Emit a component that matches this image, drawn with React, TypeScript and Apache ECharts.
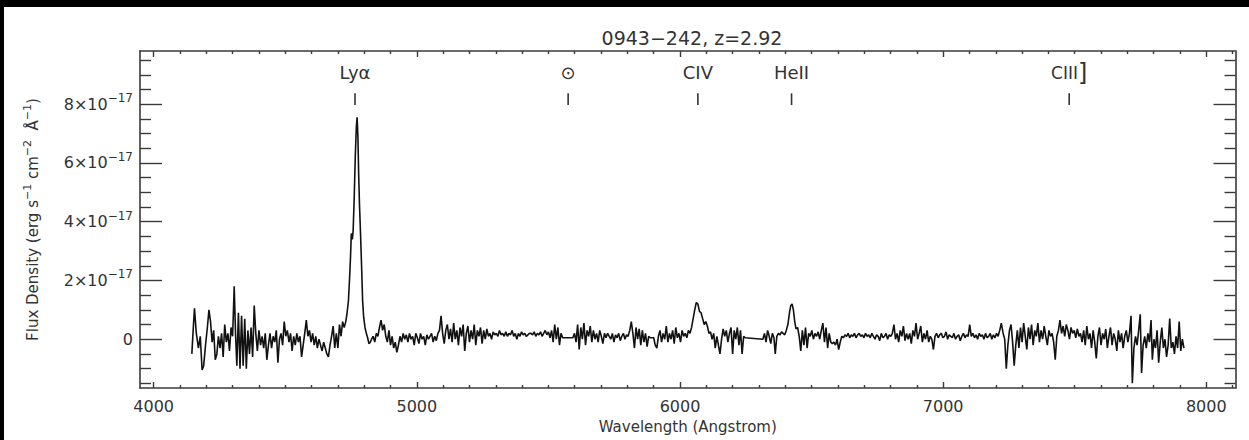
import React, { useEffect, useRef } from 'react';
import * as echarts from 'echarts';

const TITLE = '0943\u2212242, z=2.92';
const X_NAME = 'Wavelength (Angstrom)';
const X_MIN = 3948;
const X_MAX = 8111;
const Y_MIN = -1.66;
const Y_MAX = 9.81;
const Y_EXP = -17;

const X_MAJOR = [4000, 5000, 6000, 7000, 8000];
const X_MINOR = [4100, 4200, 4300, 4400, 4500, 4600, 4700, 4800, 4900,
  5100, 5200, 5300, 5400, 5500, 5600, 5700, 5800, 5900,
  6100, 6200, 6300, 6400, 6500, 6600, 6700, 6800, 6900,
  7100, 7200, 7300, 7400, 7500, 7600, 7700, 7800, 7900, 8100];
const Y_MAJOR = [0, 2, 4, 6, 8];
const Y_MINOR = [-1.5, -1, -0.5, 0.5, 1, 1.5, 2.5, 3, 3.5, 4.5, 5, 5.5, 6.5, 7, 7.5, 8.5, 9, 9.5];

const LINE_LABELS = ['Ly\u03b1', '\u2299', 'CIV', 'HeII', '{c|CIII}{k|]}'];
const LINE_WAVES = [4765, 5575, 6068, 6424, 7479];
const MARK_LABEL_Y = 9.07;
const MARK_TICK_TOP = 8.37;
const MARK_TICK_BOTTOM = 7.97;

// wavelength (Angstrom), flux density (units of 1e-17 erg s^-1 cm^-2 A^-1)
const SPECTRUM: [number, number][] = [
  [4145, -0.5], [4150, 0.3], [4155, 1.05], [4162, 0.2], [4170, -0.3], [4177, 0.1], [4184, -1.05], [4190, -0.9],
  [4197, -0.2], [4204, 0.4], [4210, 1.0], [4216, 0.6], [4222, -0.1], [4228, 0.3], [4234, -0.7], [4240, -0.5],
  [4246, 0.1], [4252, -0.3], [4258, 0.2], [4264, -0.6], [4270, 0.5], [4276, -0.1], [4282, 0.2], [4288, -0.4],
  [4294, 0.4], [4300, 0.1], [4306, 1.8], [4311, 0.2], [4316, -0.9], [4322, 0.9], [4328, -1.0], [4334, 0.8],
  [4340, -0.9], [4346, 0.7], [4352, -1.0], [4358, 0.3], [4364, -0.5], [4370, 0.4], [4376, -0.6], [4382, 1.15],
  [4388, 0.2], [4394, -0.4], [4400, 0.3], [4406, -0.2], [4412, 0.1], [4418, -0.3], [4424, 0.2], [4430, -0.7],
  [4436, -0.2], [4442, 0.2], [4448, -0.3], [4454, 0.1], [4460, -0.1], [4466, 0.3], [4472, -0.8], [4478, 0.0],
  [4484, 0.2], [4490, -0.2], [4496, 0.6], [4502, 0.1], [4508, 0.3], [4514, -0.1], [4520, 0.2], [4526, -0.4],
  [4532, 0.1], [4538, -0.2], [4544, 0.2], [4550, -0.1], [4556, 0.1], [4562, -0.6], [4568, -0.2], [4574, 0.2],
  [4580, 0.65], [4586, 0.1], [4592, 0.3], [4598, -0.1], [4604, 0.2], [4610, -0.2], [4616, 0.1], [4622, -0.3],
  [4628, 0.0], [4634, -0.2], [4640, -0.4], [4646, -0.1], [4652, -0.3], [4658, -0.5], [4664, -0.6], [4670, -0.2],
  [4676, 0.1], [4682, 0.45], [4688, -0.3], [4694, 0.2], [4700, -0.3], [4706, 0.5], [4712, 0.1], [4718, 0.6],
  [4724, 0.4], [4730, 0.6], [4735, 0.9], [4740, 1.3], [4744, 2.0], [4748, 2.8], [4751, 3.6], [4755, 3.4],
  [4758, 3.7], [4762, 4.8], [4766, 6.2], [4770, 7.2], [4773, 7.55], [4776, 6.9], [4779, 5.6], [4782, 4.6],
  [4786, 3.6], [4790, 2.5], [4794, 1.3], [4798, 0.75], [4803, 0.4], [4808, 0.2], [4813, 0.05], [4818, -0.15],
  [4823, -0.1], [4828, 0.0], [4834, 0.1], [4840, -0.1], [4846, 0.2], [4852, 0.1], [4858, 0.4], [4864, 0.65],
  [4870, 0.3], [4876, 0.5], [4882, 0.1], [4888, -0.1], [4894, 0.3], [4900, -0.2], [4906, 0.1], [4912, -0.3],
  [4918, -0.1], [4924, -0.45], [4930, -0.2], [4936, 0.1], [4942, -0.1], [4948, 0.2], [4954, 0.0], [4960, 0.15],
  [4966, -0.1], [4972, 0.2], [4978, 0.0], [4984, 0.1], [4990, -0.2], [4996, 0.2], [5002, 0.05], [5008, -0.15],
  [5014, 0.2], [5020, 0.0], [5026, 0.1], [5032, -0.2], [5038, 0.15], [5044, 0.0], [5050, 0.1], [5056, 0.2],
  [5062, -0.1], [5068, 0.1], [5074, -0.05], [5080, 0.2], [5086, 0.3], [5092, 0.8], [5098, 0.2], [5104, -0.15],
  [5110, 0.3], [5116, 0.5], [5122, 0.0], [5128, 0.35], [5134, -0.1], [5140, 0.55], [5146, 0.0], [5152, 0.3],
  [5158, -0.2], [5164, 0.4], [5170, 0.1], [5176, 0.5], [5182, -0.4], [5188, 0.2], [5194, 0.45], [5200, -0.1],
  [5206, 0.3], [5212, 0.0], [5218, 0.5], [5224, -0.2], [5230, 0.3], [5236, 0.1], [5242, 0.4], [5248, -0.15],
  [5254, 0.3], [5260, 0.0], [5266, 0.35], [5272, 0.1], [5278, 0.2], [5284, 0.0], [5290, 0.25], [5296, 0.15],
  [5302, 0.2], [5308, 0.1], [5314, 0.3], [5320, 0.15], [5326, 0.2], [5332, 0.1], [5338, 0.25], [5344, 0.1],
  [5350, 0.2], [5356, 0.15], [5362, 0.3], [5368, 0.1], [5374, 0.2], [5380, 0.0], [5386, 0.2], [5392, 0.1],
  [5398, 0.25], [5404, 0.15], [5410, 0.2], [5416, 0.1], [5422, 0.15], [5428, 0.2], [5434, 0.2], [5440, 0.15],
  [5446, 0.25], [5452, 0.1], [5458, 0.2], [5464, 0.15], [5470, 0.25], [5476, 0.1], [5482, 0.2], [5488, 0.3],
  [5494, 0.15], [5500, 0.25], [5506, 0.05], [5512, 0.3], [5518, -0.1], [5524, 0.5], [5530, 0.0], [5536, 0.4],
  [5542, -0.2], [5548, 0.2], [5554, 0.05], [5593, 0.05], [5599, 0.2], [5605, -0.1], [5611, 0.5], [5617, -0.35],
  [5623, 0.4], [5629, 0.0], [5635, 0.55], [5641, -0.2], [5647, 0.3], [5653, 0.1], [5659, 0.45], [5665, -0.1],
  [5671, 0.3], [5677, 0.0], [5683, 0.2], [5689, -0.1], [5695, 0.3], [5701, 0.1], [5707, -0.15], [5713, 0.2],
  [5719, 0.05], [5725, 0.2], [5731, 0.1], [5737, 0.0], [5743, 0.2], [5749, -0.1], [5755, 0.15], [5761, 0.05],
  [5767, 0.2], [5773, -0.05], [5779, 0.1], [5785, 0.2], [5791, 0.0], [5797, 0.15], [5803, 0.1], [5809, 0.3],
  [5815, 0.6], [5821, 0.2], [5827, -0.3], [5833, 0.4], [5839, 0.0], [5845, 0.35], [5851, -0.2], [5857, 0.3],
  [5863, -0.1], [5869, 0.2], [5875, -0.25], [5881, 0.1], [5887, 0.05], [5893, 0.05], [5900, 0.05], [5906, -0.2],
  [5912, -0.3], [5918, 0.1], [5924, 0.3], [5930, -0.1], [5936, 0.2], [5942, 0.0], [5948, 0.45], [5954, -0.1],
  [5960, 0.2], [5966, 0.0], [5972, 0.3], [5978, -0.15], [5984, 0.4], [5990, 0.05], [5996, 0.2], [6002, -0.1],
  [6008, 0.3], [6014, 0.1], [6020, 0.2], [6026, 0.05], [6032, 0.3], [6038, 0.2], [6044, 0.4], [6050, 0.7],
  [6056, 1.0], [6062, 1.25], [6068, 1.2], [6074, 0.95], [6080, 0.9], [6086, 0.7], [6092, 0.5], [6098, 0.6],
  [6104, 0.45], [6110, 0.2], [6116, 0.25], [6122, 0.0], [6128, 0.2], [6134, -0.3], [6140, 0.1], [6146, -0.2],
  [6152, -0.5], [6158, 0.0], [6164, 0.35], [6170, 0.1], [6176, 0.3], [6182, -0.1], [6188, 0.2], [6194, 0.4],
  [6200, -0.5], [6206, 0.3], [6212, 0.0], [6218, 0.4], [6224, -0.2], [6230, 0.3], [6236, -0.5], [6242, 0.1],
  [6248, 0.05], [6315, 0.0], [6321, 0.2], [6327, -0.1], [6333, 0.3], [6339, 0.1], [6345, -0.15], [6351, 0.2],
  [6357, 0.05], [6362, -0.5], [6368, 0.1], [6374, 0.2], [6380, 0.15], [6386, 0.25], [6392, 0.2], [6398, 0.15],
  [6404, 0.3], [6410, 0.5], [6416, 0.9], [6421, 1.15], [6426, 1.2], [6431, 1.0], [6436, 0.6], [6441, 0.35],
  [6447, 0.4], [6453, 0.1], [6459, -0.4], [6465, 0.3], [6471, -0.2], [6477, 0.4], [6483, -0.3], [6489, 0.2],
  [6495, 0.1], [6501, 0.3], [6507, 0.0], [6513, 0.2], [6519, 0.1], [6525, 0.25], [6531, 0.0], [6537, 0.3],
  [6543, 0.55], [6549, -0.1], [6555, 0.4], [6561, -0.3], [6567, 0.2], [6573, -0.1], [6579, -0.15], [6585, -0.1],
  [6591, -0.2], [6597, 0.0], [6603, -0.35], [6609, -0.1], [6615, 0.1], [6621, 0.05], [6627, 0.15], [6633, 0.1],
  [6639, 0.2], [6645, 0.05], [6651, 0.15], [6657, 0.1], [6663, 0.2], [6669, 0.05], [6675, 0.15], [6681, 0.2],
  [6687, 0.1], [6693, 0.15], [6699, 0.05], [6705, 0.2], [6711, 0.1], [6717, 0.15], [6723, 0.05], [6729, 0.2],
  [6735, 0.1], [6741, 0.0], [6747, 0.15], [6753, 0.1], [6759, -0.05], [6765, 0.2], [6771, 0.05], [6777, 0.1],
  [6783, 0.2], [6789, 0.0], [6795, 0.15], [6801, 0.1], [6807, 0.2], [6813, 0.5], [6819, 0.0], [6825, 0.2],
  [6831, -0.1], [6837, 0.3], [6843, 0.1], [6849, 0.45], [6855, -0.05], [6861, 0.2], [6867, 0.0], [6873, 0.2],
  [6879, -0.15], [6885, 0.3], [6891, 0.1], [6897, 0.55], [6903, 0.0], [6909, 0.2], [6915, 0.45], [6921, -0.1],
  [6927, 0.2], [6933, 0.0], [6939, 0.3], [6945, -0.1], [6951, 0.1], [6957, 0.0], [6963, -0.35], [6969, 0.1],
  [6975, 0.2], [6981, 0.05], [6987, 0.15], [6993, 0.2], [6999, 0.05], [7005, 0.1], [7011, 0.25], [7017, 0.0],
  [7023, 0.15], [7029, 0.1], [7035, 0.05], [7041, 0.2], [7047, 0.0], [7053, 0.1], [7059, 0.15], [7065, -0.05],
  [7071, 0.1], [7077, 0.2], [7083, 0.05], [7089, 0.15], [7095, 0.1], [7101, 0.5], [7107, 0.1], [7113, 0.2],
  [7119, 0.05], [7125, 0.15], [7131, 0.0], [7137, 0.2], [7143, 0.1], [7149, 0.15], [7155, 0.0], [7161, 0.2],
  [7167, 0.05], [7173, 0.1], [7179, 0.2], [7185, 0.0], [7191, 0.15], [7197, 0.05], [7203, 0.2], [7209, 0.1],
  [7215, 0.3], [7221, 0.55], [7228, 0.2], [7234, 0.0], [7240, -1.0], [7246, -0.2], [7252, 0.3], [7258, 0.5],
  [7264, -0.1], [7270, -0.9], [7276, -0.2], [7282, 0.3], [7288, -0.3], [7294, 0.4], [7300, -0.1], [7306, 0.55],
  [7312, 0.1], [7318, -0.35], [7324, 0.4], [7330, 0.0], [7336, 0.5], [7342, -0.2], [7348, 0.3], [7354, 0.1],
  [7360, 0.55], [7366, -0.1], [7372, 0.3], [7378, 0.0], [7384, 0.45], [7390, 0.1], [7396, -0.2], [7402, 0.3],
  [7408, 0.1], [7414, 0.2], [7420, -0.1], [7426, -0.7], [7432, 0.1], [7438, 0.3], [7444, 0.65], [7450, 0.2],
  [7456, 0.45], [7462, 0.1], [7468, 0.5], [7474, 0.3], [7480, 0.0], [7486, 0.4], [7492, 0.2], [7498, 0.3],
  [7504, 0.05], [7510, 0.35], [7516, 0.1], [7522, 0.2], [7528, -0.1], [7534, 0.3], [7540, -0.2], [7546, 0.45],
  [7552, 0.0], [7558, 0.2], [7564, -0.3], [7570, 0.3], [7576, -0.1], [7582, -0.65], [7588, 0.1], [7594, 0.4],
  [7600, -0.2], [7606, 0.2], [7612, 0.0], [7618, 0.35], [7624, -0.3], [7630, 0.1], [7636, 0.4], [7642, -0.2],
  [7648, 0.2], [7654, 0.0], [7660, -0.4], [7666, 0.3], [7672, -0.1], [7678, 0.2], [7684, -0.3], [7690, 0.1],
  [7696, 0.3], [7702, -0.1], [7708, 0.2], [7714, 0.8], [7719, -1.5], [7725, -0.3], [7731, 0.1], [7737, -0.2],
  [7743, 0.3], [7749, 0.85], [7754, -1.15], [7760, -0.2], [7766, 0.1], [7772, -0.3], [7778, 0.2], [7784, -0.1],
  [7790, 0.65], [7795, -0.7], [7801, 0.0], [7807, -0.3], [7813, 0.3], [7819, -0.8], [7825, -0.1], [7831, 0.4],
  [7837, -0.3], [7843, 0.0], [7849, -0.6], [7855, -0.2], [7861, 0.7], [7867, -0.3], [7873, -0.1], [7879, -0.5],
  [7885, 0.1], [7891, -0.3], [7897, 0.6], [7903, -0.4], [7909, 0.0], [7915, -0.3],
];

const FONT = 'DejaVu Sans';
const INK = '#333333';
const FRAME = '#3a3a3a';

function xAxisDef(position: 'bottom' | 'top', major: boolean) {
  const isMain = major && position === 'bottom';
  return {
    type: 'value',
    position,
    offset: 0,
    min: X_MIN,
    max: X_MAX,
    axisLine: { show: major, onZero: false, lineStyle: { color: FRAME, width: 1.6 } },
    axisTick: {
      show: true, inside: true, length: major ? 6 : 3,
      customValues: major ? X_MAJOR : X_MINOR,
      lineStyle: { color: FRAME, width: 1.4 },
    },
    axisLabel: {
      show: isMain,
      customValues: X_MAJOR,
      formatter: (v: number) => String(v),
      margin: 10,
      fontSize: 16,
      fontFamily: FONT,
      color: INK,
    },
    splitLine: { show: false },
    ...(isMain
      ? {
          name: X_NAME,
          nameLocation: 'middle',
          nameGap: 31,
          nameTextStyle: { fontSize: 15, fontFamily: FONT, color: INK },
        }
      : {}),
  };
}

function yAxisDef(position: 'left' | 'right', major: boolean) {
  const isMain = major && position === 'left';
  return {
    type: 'value',
    position,
    offset: 0,
    min: Y_MIN,
    max: Y_MAX,
    axisLine: { show: major, onZero: false, lineStyle: { color: FRAME, width: 1.6 } },
    axisTick: {
      show: true, inside: true, length: major ? 22 : 11,
      customValues: major ? Y_MAJOR : Y_MINOR,
      lineStyle: { color: FRAME, width: 1.4 },
    },
    axisLabel: {
      show: isMain,
      customValues: Y_MAJOR,
      margin: 7,
      formatter: (v: number) => (v === 0 ? '{b|0}' : `{b|${v}\u00d710}{s|\u2212${Math.abs(Y_EXP)}}`),
      rich: {
        b: { fontSize: 16, fontFamily: FONT, color: INK, lineHeight: 24 },
        s: { fontSize: 12, fontFamily: FONT, color: INK, verticalAlign: 'top' },
      },
    },
    splitLine: { show: false },
    ...(isMain
      ? {
          name: '{a|Flux Density (erg s}{s|\u22121}{a| cm}{s|\u22122}{a|  \u00c5}{s|\u22121}{a|)}',
          nameLocation: 'middle',
          nameGap: 96,
          nameTextStyle: {
            rich: {
              a: { fontSize: 15, fontFamily: FONT, color: INK, lineHeight: 22 },
              s: { fontSize: 11, fontFamily: FONT, color: INK, verticalAlign: 'top' },
            },
          },
        }
      : {}),
  };
}

export default function App() {
  const ref = useRef<HTMLDivElement>(null);

  useEffect(() => {
    if (!ref.current) return;
    const chart = echarts.init(ref.current, null, { renderer: 'svg' });
    const option: any = {
      animation: false,
      backgroundColor: '#ffffff',
      title: {
        text: TITLE,
        left: 687,
        top: 23,
        textAlign: 'center',
        textStyle: { fontSize: 19, fontWeight: 'normal', fontFamily: FONT, color: INK },
      },
      graphic: [
        { type: 'rect', left: 0, top: 0, shape: { x: 0, y: 0, width: 1249, height: 7 }, style: { fill: '#000' }, silent: true },
        { type: 'rect', left: 0, top: 0, shape: { x: 0, y: 0, width: 4, height: 440 }, style: { fill: '#000' }, silent: true },
      ],
      grid: { left: 140, top: 51, right: 13.5, bottom: 52, containLabel: false },
      xAxis: [
        xAxisDef('bottom', true),
        xAxisDef('bottom', false),
        xAxisDef('top', true),
        xAxisDef('top', false),
      ],
      yAxis: [
        yAxisDef('left', true),
        yAxisDef('left', false),
        yAxisDef('right', true),
        yAxisDef('right', false),
      ],
      series: [
        {
          type: 'line',
          xAxisIndex: 0,
          yAxisIndex: 0,
          data: SPECTRUM,
          showSymbol: false,
          symbol: 'none',
          lineStyle: { color: '#111111', width: 1.6 },
          z: 3,
        },
        {
          type: 'custom',
          xAxisIndex: 0,
          yAxisIndex: 0,
          data: LINE_WAVES.map((w) => [w, MARK_LABEL_Y]),
          renderItem: (params: any, api: any) => {
            const w = api.value(0);
            const top = api.coord([w, MARK_TICK_TOP]);
            const bot = api.coord([w, MARK_TICK_BOTTOM]);
            const lab = api.coord([w, MARK_LABEL_Y]);
            return {
              type: 'group',
              children: [
                {
                  type: 'line',
                  shape: { x1: top[0], y1: top[1], x2: bot[0], y2: bot[1] },
                  style: { stroke: INK, lineWidth: 1.6 },
                },
                {
                  type: 'text',
                  x: lab[0],
                  y: lab[1],
                  style: {
                    text: LINE_LABELS[params.dataIndex],
                    align: 'center',
                    verticalAlign: 'middle',
                    fontSize: 18,
                    fontFamily: FONT,
                    fill: INK,
                    rich: {
                      c: { fontSize: 17, fontFamily: FONT, fill: INK, lineHeight: 26 },
                      k: { fontSize: 24, fontFamily: FONT, fill: INK },
                    },
                  },
                },
              ],
            };
          },
          z: 4,
        },
      ],
    };
    chart.setOption(option);
    return () => chart.dispose();
  }, []);

  return (
    <div
      ref={ref}
      style={{ position: 'fixed', left: 0, top: 0, width: 1249, height: 440, background: '#fff' }}
    />
  );
}
